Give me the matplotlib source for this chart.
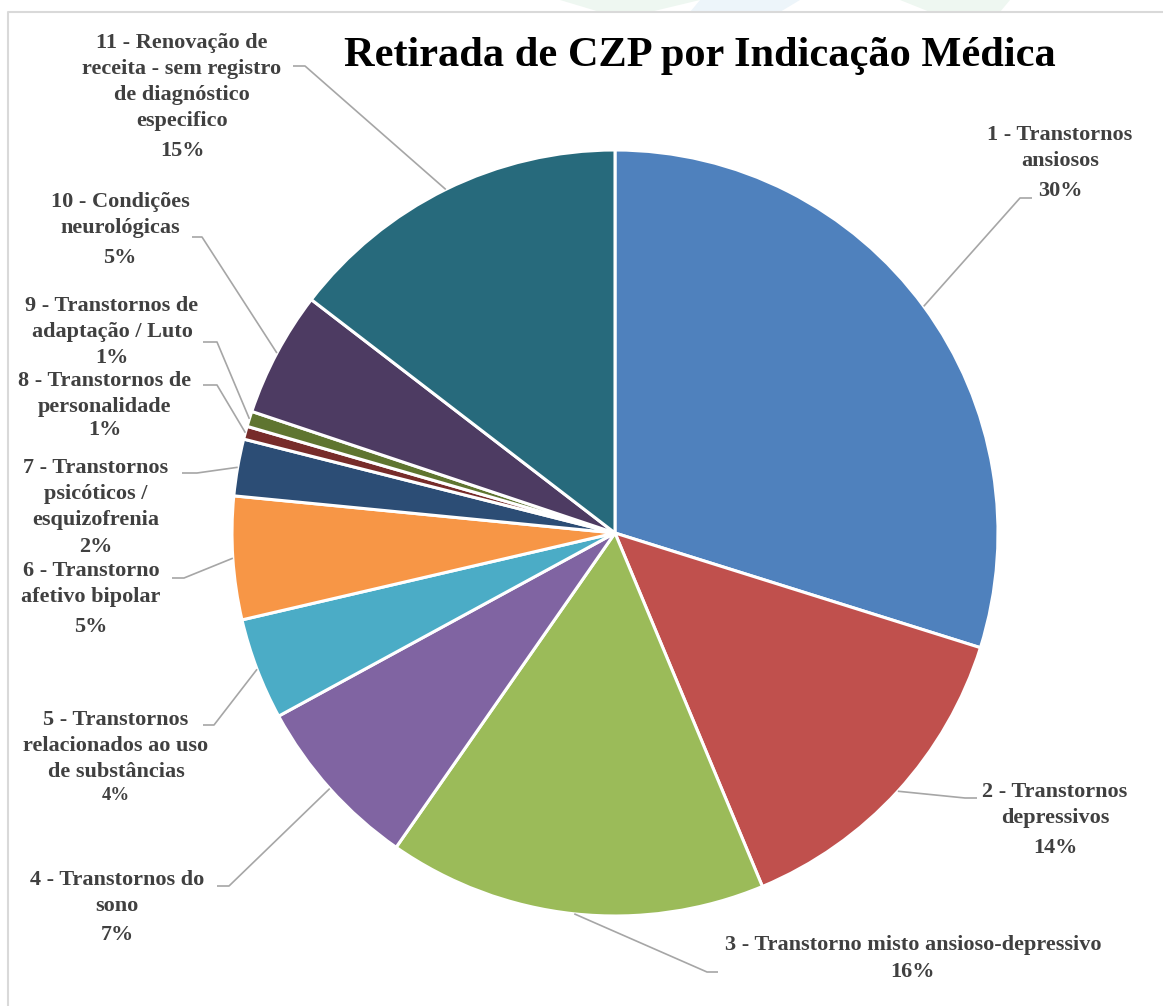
import matplotlib
matplotlib.use('Agg')
import matplotlib.pyplot as plt
from matplotlib.patches import Polygon
import numpy as np

# ---------------- data ----------------
categories = [
    "1 - Transtornos\nansiosos",
    "2 - Transtornos\ndepressivos",
    "3 - Transtorno misto ansioso-depressivo",
    "4 - Transtornos do\nsono",
    "5 - Transtornos\nrelacionados ao uso\nde substâncias",
    "6 - Transtorno\nafetivo bipolar",
    "7 - Transtornos\npsicóticos /\nesquizofrenia",
    "8 - Transtornos de\npersonalidade",
    "9 - Transtornos de\nadaptação / Luto",
    "10 - Condições\nneurológicas",
    "11 - Renovação de\nreceita - sem registro\nde diagnóstico\nespecifico",
]
values = [29.9, 13.9, 16.0, 7.4, 4.3, 5.2, 2.4, 0.55, 0.65, 5.3, 14.6]
colors = ['#4F81BD', '#C0504D', '#9BBB59', '#8064A2', '#4BACC6', '#F79646',
          '#2C4D75', '#772C2A', '#5F7530', '#4D3B62', '#276A7C']
title = "Retirada de CZP por Indicação Médica"

# ---------------- layout (pixel space, y from top) ----------------
W, H = 1163, 1006
center_px = (615, 533)
radius_px = 383
# label: x center, name block center y, percent y
label_xy = [(1060, 148, 191), (1055, 805, 848), (913, 945, 972), (117, 893, 935),
            (116, 746, 795), (91, 584, 627), (96, 494, 547), (105, 394, 430),
            (112, 319, 358), (120, 215, 258), (182, 82, 151)]
pct_sizes = [16, 16, 16, 16, 13.5, 16, 16, 16, 16, 16, 16]
# leader bend point and horizontal end
leader = [((1020, 198), (1032, 198)), ((965, 798), (977, 798)), ((707, 972), (718, 972)),
          ((229, 886), (217, 886)), ((214, 725), (203, 725)), ((184, 578), (172, 578)),
          ((197, 473), (182, 473)), ((217, 385), (203, 385)), ((217, 342), (203, 342)),
          ((202, 237), (192, 237)), ((305, 66), (293, 66))]

fig = plt.figure(figsize=(W / 100, H / 100), dpi=100)
ax = fig.add_axes([0, 0, 1, 1])

def P(x, y):
    return x, H - y

wedges, _ = ax.pie(values, colors=colors, startangle=90, counterclock=False,
                   center=P(*center_px), radius=radius_px,
                   wedgeprops=dict(edgecolor='white', linewidth=2.2))
ax.set_xlim(0, W)
ax.set_ylim(0, H)
ax.set_aspect('equal')
ax.axis('off')

# faint background watermark above the chart frame
for pts, c in [([(560, 0), (700, 0), (650, 12), (600, 12)], '#EEF7F1'),
               ([(700, 0), (800, 0), (780, 12), (690, 12)], '#EDF5FA'),
               ([(900, 0), (1010, 0), (1000, 12), (930, 12)], '#EEF7F1')]:
    ax.add_patch(Polygon([P(x, y) for x, y in pts], closed=True, facecolor=c,
                         edgecolor='none', zorder=0))

# chart border
ax.plot([8, 8, W + 5], [0, H - 12, H - 12], color='#D9D9D9', lw=1.5, zorder=1)

font = 'Liberation Serif'
tc = '#404040'
total = sum(values)
for i, w in enumerate(wedges):
    mid = np.deg2rad((w.theta1 + w.theta2) / 2)
    sx = w.center[0] + radius_px * np.cos(mid)
    sy = w.center[1] + radius_px * np.sin(mid)
    (bx, by), (ex, ey) = leader[i]
    ax.plot([sx, bx, ex], [sy, H - by, H - ey], color='#A6A6A6', lw=1.2, zorder=3,
            solid_capstyle='butt')
    x, ny, py = label_xy[i]
    ax.text(*P(x, ny), categories[i], ha='center', va='center', multialignment='center',
            fontsize=16, fontweight='bold', family=font, color=tc, linespacing=1.38)
    pct = f"{round(values[i] / total * 100)}%"
    ax.text(*P(x, py), pct, ha='center', va='center', fontsize=pct_sizes[i],
            fontweight='bold', family=font, color=tc)

ax.text(*P(700, 56), title, ha='center', va='center', fontsize=30.5,
        fontweight='bold', family=font, color='black')

fig.savefig('out.png', dpi=100)
